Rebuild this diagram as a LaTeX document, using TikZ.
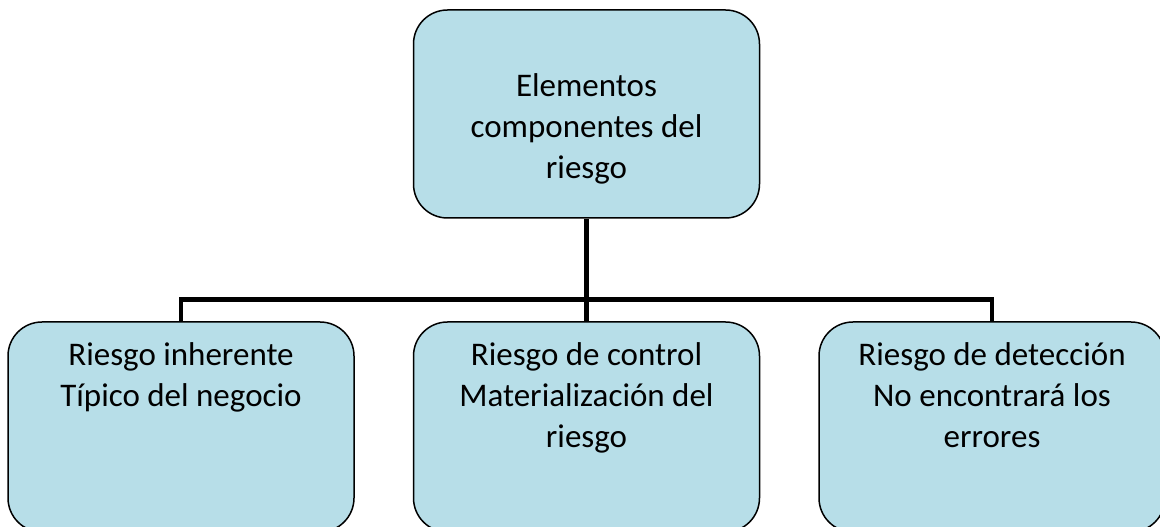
\documentclass[tikz,border=0pt]{standalone}
\usepackage{fontspec}
\setmainfont{Carlito}
\usetikzlibrary{positioning}
\definecolor{boxblue}{HTML}{B7DEE8}

% text set from the top of a box
\newcommand{\boxtext}[3]{\begin{minipage}[c][#1][t]{330pt}\centering\fontsize{33}{41}\selectfont\rule{0pt}{#2}#3\end{minipage}}

\begin{document}
\begin{tikzpicture}[
  x=1pt,y=1pt,
  box/.style={draw,line width=1.5pt,fill=boxblue,rounded corners=34pt,inner sep=0pt,minimum width=346pt},
  link/.style={line width=4.5pt}]
\useasboundingbox (0,0) rectangle (1160,527);
\node[box,minimum height=208pt] (riesgo) at (586.5,413) {\boxtext{208pt}{87pt}{Elementos\\componentes del\\riesgo}};
\node[box,minimum height=210pt] (control) at (586.5,100) {\boxtext{210pt}{44pt}{Riesgo de control\\Materializaci\'on del\\riesgo}};
\node[box,minimum height=210pt,left=58pt of control] (inherente) {\boxtext{210pt}{44pt}{Riesgo inherente\\T\'ipico del negocio}};
\node[box,minimum height=210pt,right=58pt of control] (deteccion) {\boxtext{210pt}{44pt}{Riesgo de detecci\'on\\No encontrar\'a los\\errores}};

\coordinate (bus) at ([yshift=-81pt]riesgo.south);
\draw[link] (riesgo.south) -- (control.north);
\draw[link] (inherente.north) |- (bus) -| (deteccion.north);
\end{tikzpicture}
\end{document}
